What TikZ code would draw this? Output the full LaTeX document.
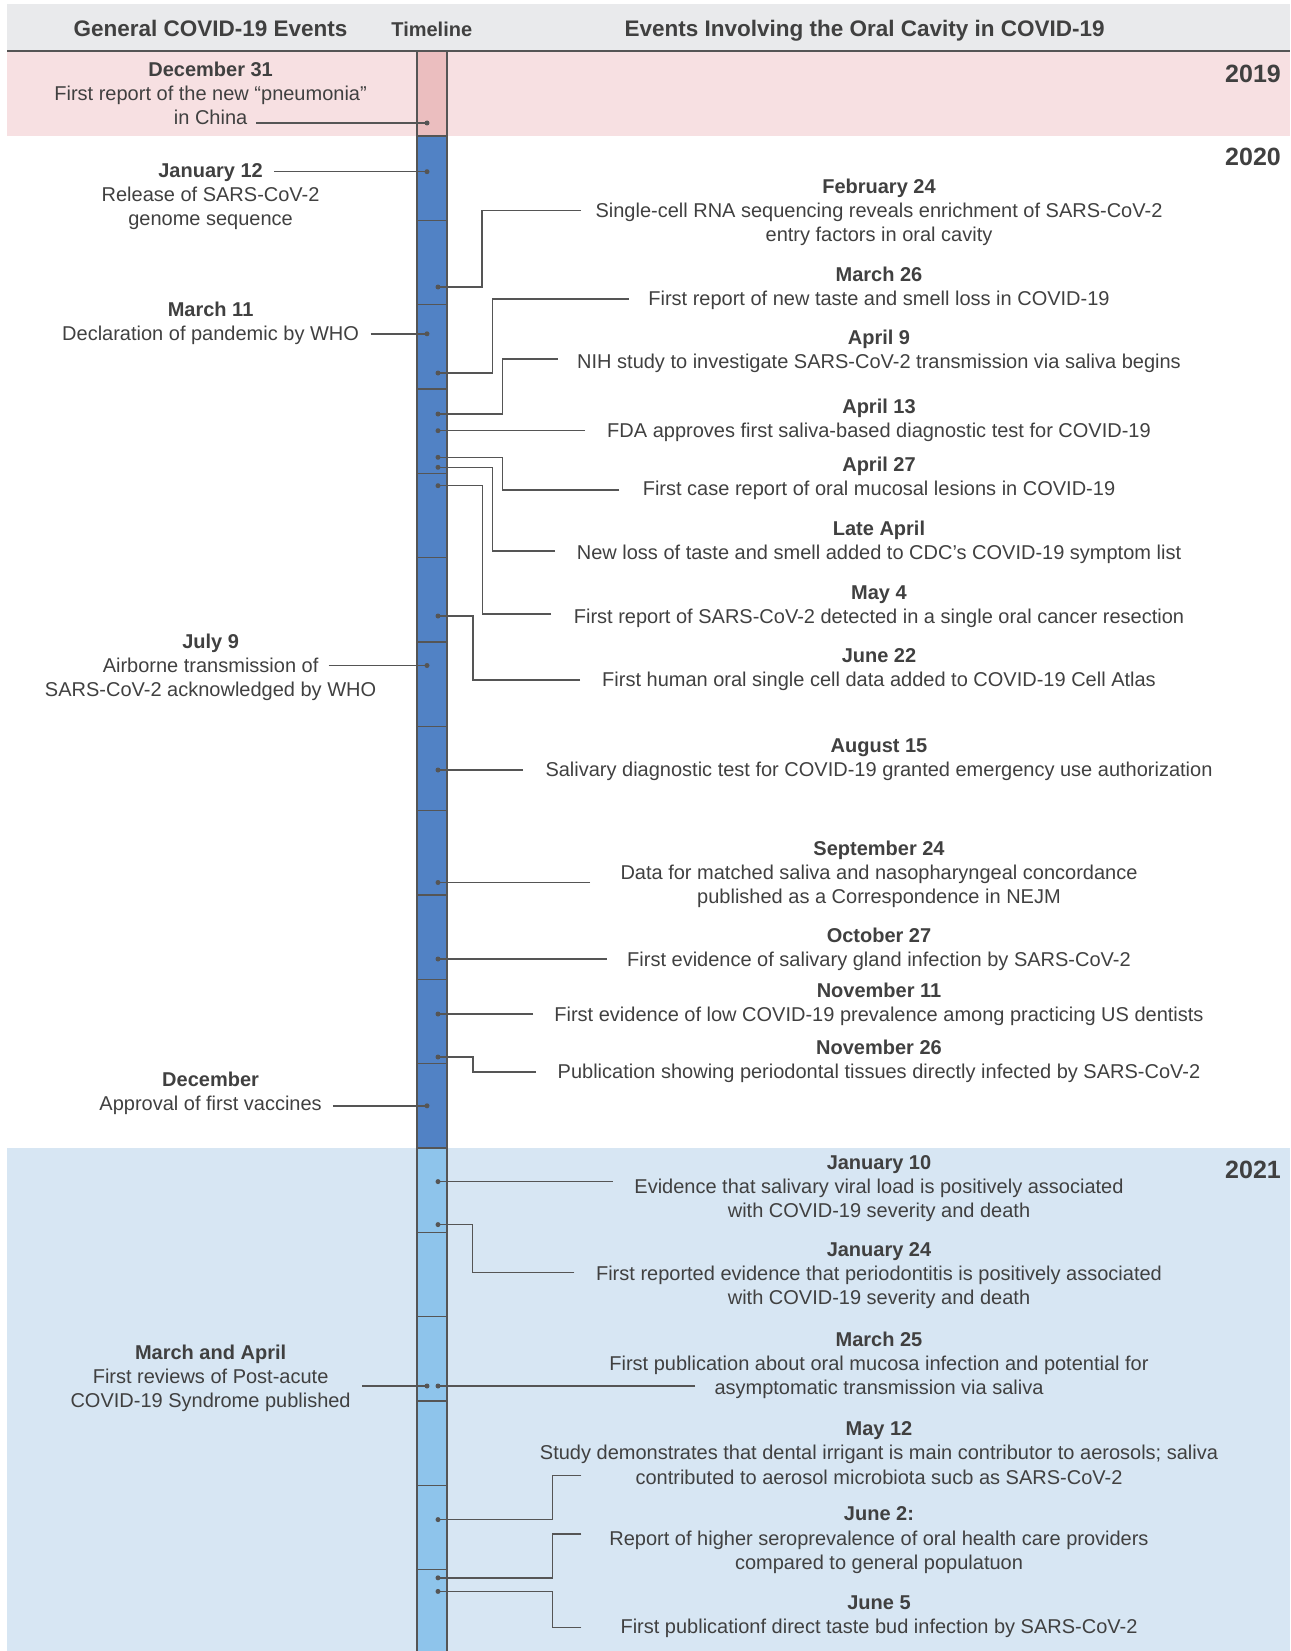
\documentclass[tikz,border=0pt]{standalone}
\usepackage{fontspec}
\setmainfont{Liberation Sans}
\definecolor{txt}{HTML}{404040}
\definecolor{linecol}{HTML}{555555}
\definecolor{hdrbg}{HTML}{E9EAEC}
\definecolor{pinkbg}{HTML}{F7E0E2}
\definecolor{pinkbar}{HTML}{EBBEBF}
\definecolor{darkbar}{HTML}{5182C5}
\definecolor{lightbg}{HTML}{D7E6F3}
\definecolor{lightbar}{HTML}{8EC4EB}
\begin{document}
\begin{tikzpicture}[x=1pt,y=-1pt,
  evt/.style={text=txt, align=center, font=\fontsize{20}{24.2}\selectfont, inner sep=0, anchor=base},
  two/.style={yshift=-24.2pt},
  three/.style={yshift=-48.4pt},
  hdr/.style={text=txt, font=\fontsize{22.5}{26}\selectfont\bfseries, inner sep=0, anchor=base},
  yr/.style={text=txt, font=\fontsize{25}{28}\selectfont\bfseries, inner sep=0, anchor=base east},
  conn/.style={draw=linecol, line width=1.5pt},
  dot/.style={circle, fill=linecol, inner sep=0, minimum size=5pt},
  seg/.style={draw=linecol, line width=1.5pt}]
\useasboundingbox (0,0) rectangle (1290,1651);
\clip (0,0) rectangle (1290,1651);
% bands
\fill[hdrbg] (7,4) rectangle (1290,51);
\fill[pinkbg] (7,51) rectangle (1290,136);
\fill[lightbg] (7,1148) rectangle (1290,1700);
% timeline bar
\filldraw[seg, fill=pinkbar] (417,51) rectangle (447,136);
\foreach \i in {0,...,11}{
  \filldraw[seg, fill=darkbar] (417,136+\i*84.333) rectangle (447,136+\i*84.333+84.333);
}
\foreach \i in {0,...,5}{
  \filldraw[seg, fill=lightbar] (417,1148+\i*84.333) rectangle (447,1148+\i*84.333+84.333);
}
\draw[linecol, line width=1.5pt] (7,51) -- (1290,51);
% headers
\node[hdr] (h1) at (210.6,36.5) {General COVID-19 Events};
\node[hdr, font=\fontsize{20}{24}\selectfont\bfseries] (h2) at (431.8,36.5) {Timeline};
\node[hdr] (h3) at (864.6,36.5) {Events Involving the Oral Cavity in COVID-19};
% years
\node[yr] (y19) at (1281,83) {2019};
\node[yr] (y20) at (1281,165) {2020};
\node[yr] (y21) at (1281,1178) {2021};
% left events
\node[evt, three] (L1) at (210.6,76) {\textbf{December 31}\\First report of the new “pneumonia”\\in China};
\node[evt, three] (L2) at (210.6,177) {\textbf{January 12}\\Release of SARS-CoV-2\\genome sequence};
\node[evt, two] (L3) at (210.6,316) {\textbf{March 11}\\Declaration of pandemic by WHO};
\node[evt, three] (L4) at (210.6,648) {\textbf{July 9}\\Airborne transmission of\\SARS-CoV-2 acknowledged by WHO};
\node[evt, two] (L5) at (210.6,1086) {\textbf{December}\\Approval of first vaccines};
\node[evt, three] (L6) at (210.6,1359) {\textbf{March and April}\\First reviews of Post-acute\\COVID-19 Syndrome published};
% left dots and connectors
\node[dot] (dL1) at (427,123) {};
\node[dot] (dL2) at (427,171.7) {};
\node[dot] (dL3) at (427,333.8) {};
\node[dot] (dL4) at (427,665.5) {};
\node[dot] (dL5) at (427,1105.8) {};
\node[dot] (dL6) at (427,1386) {};
\coordinate (eL1) at (256,123);
\coordinate (eL2) at (274,171.7);
\coordinate (eL3) at (370.7,333.8);
\coordinate (eL4) at (328.6,665.5);
\coordinate (eL5) at (332.8,1105.8);
\coordinate (eL6) at (362,1386);
\foreach \n in {1,...,6}{\draw[conn] (eL\n) -- (dL\n.center);}
% right events
\node[evt, three] (R1) at (879,193) {\textbf{February 24}\\Single-cell RNA sequencing reveals enrichment of SARS-CoV-2\\entry factors in oral cavity};
\node[evt, two] (R2) at (879,281.4) {\textbf{March 26}\\First report of new taste and smell loss in COVID-19};
\node[evt, two] (R3) at (879,344.5) {\textbf{April 9}\\NIH study to investigate SARS-CoV-2 transmission via saliva begins};
\node[evt, two] (R4) at (879,413) {\textbf{April 13}\\FDA approves first saliva-based diagnostic test for COVID-19};
\node[evt, two] (R5) at (879,471) {\textbf{April 27}\\First case report of oral mucosal lesions in COVID-19};
\node[evt, two] (R6) at (879,535) {\textbf{Late April}\\New loss of taste and smell added to CDC’s COVID-19 symptom list};
\node[evt, two] (R7) at (879,599.4) {\textbf{May 4}\\First report of SARS-CoV-2 detected in a single oral cancer resection};
\node[evt, two] (R8) at (879,662.6) {\textbf{June 22}\\First human oral single cell data added to COVID-19 Cell Atlas};
\node[evt, two] (R9) at (879,752) {\textbf{August 15}\\Salivary diagnostic test for COVID-19 granted emergency use authorization};
\node[evt, three] (R10) at (879,855.3) {\textbf{September 24}\\Data for matched saliva and nasopharyngeal concordance\\published as a Correspondence in NEJM};
\node[evt, two] (R11) at (879,942.7) {\textbf{October 27}\\First evidence of salivary gland infection by SARS-CoV-2};
\node[evt, two] (R12) at (879,997.5) {\textbf{November 11}\\First evidence of low COVID-19 prevalence among practicing US dentists};
\node[evt, two] (R13) at (879,1054.3) {\textbf{November 26}\\Publication showing periodontal tissues directly infected by SARS-CoV-2};
\node[evt, three] (R14) at (879,1169) {\textbf{January 10}\\Evidence that salivary viral load is positively associated\\with COVID-19 severity and death};
\node[evt, three] (R15) at (879,1256.5) {\textbf{January 24}\\First reported evidence that periodontitis is positively associated\\with COVID-19 severity and death};
\node[evt, three] (R16) at (879,1346) {\textbf{March 25}\\First publication about oral mucosa infection and potential for\\asymptomatic transmission via saliva};
\node[evt, three] (R17) at (879,1435.6) {\textbf{May 12}\\Study demonstrates that dental irrigant is main contributor to aerosols; saliva\\contributed to aerosol microbiota sucb as SARS-CoV-2};
\node[evt, three] (R18) at (879,1520.9) {\textbf{June 2:}\\Report of higher seroprevalence of oral health care providers\\compared to general populatuon};
\node[evt, two] (R19) at (879,1609.3) {\textbf{June 5}\\First publicationf direct taste bud infection by SARS-CoV-2};
% right dots
\node[dot] (dR1) at (438,287) {};
\node[dot] (dR2) at (438,373) {};
\node[dot] (dR3) at (438,414) {};
\node[dot] (dR4) at (438,430.7) {};
\node[dot] (dR5) at (438,457.3) {};
\node[dot] (dR6) at (438,467.3) {};
\node[dot] (dR7) at (438,485.7) {};
\node[dot] (dR8) at (438,616) {};
\node[dot] (dR9) at (438,770) {};
\node[dot] (dR10) at (438,882.5) {};
\node[dot] (dR11) at (438,959) {};
\node[dot] (dR12) at (438,1014) {};
\node[dot] (dR13) at (438,1057) {};
\node[dot] (dR14) at (438,1181.6) {};
\node[dot] (dR15) at (438,1224.6) {};
\node[dot] (dR16) at (438,1386) {};
\node[dot] (dR17) at (438,1519.6) {};
\node[dot] (dR18) at (438,1577.8) {};
\node[dot] (dR19) at (438,1591.4) {};
% right free ends
\coordinate (eR1) at (581,210.6);
\coordinate (eR2) at (628.7,299);
\coordinate (eR3) at (557.7,359);
\coordinate (eR4) at (585,430.7);
\coordinate (eR5) at (619.3,490);
\coordinate (eR6) at (555,551);
\coordinate (eR7) at (551,614);
\coordinate (eR8) at (580,680);
\coordinate (eR9) at (523,770);
\coordinate (eR10) at (590,882.5);
\coordinate (eR11) at (606.6,959);
\coordinate (eR12) at (533,1014);
\coordinate (eR13) at (536,1072);
\coordinate (eR14) at (612.7,1181.6);
\coordinate (eR15) at (574.3,1272.4);
\coordinate (eR16) at (695,1386);
\coordinate (eR17) at (581.3,1475.6);
\coordinate (eR18) at (581.3,1533.8);
\coordinate (eR19) at (581.3,1627.3);
% connectors
\draw[conn] (eR1) -- ++(-99,0) |- (dR1.center);
\draw[conn] (eR2) -- ++(-136.4,0) |- (dR2.center);
\draw[conn] (eR3) -- ++(-55,0) |- (dR3.center);
\draw[conn] (eR4) -- (dR4.center);
\draw[conn] (eR5) -- ++(-116.6,0) |- (dR5.center);
\draw[conn] (eR6) -- ++(-62.7,0) |- (dR6.center);
\draw[conn] (eR7) -- ++(-68.7,0) |- (dR7.center);
\draw[conn] (eR8) -- ++(-107,0) |- (dR8.center);
\draw[conn] (eR9) -- (dR9.center);
\draw[conn] (eR10) -- (dR10.center);
\draw[conn] (eR11) -- (dR11.center);
\draw[conn] (eR12) -- (dR12.center);
\draw[conn] (eR13) -- ++(-63,0) |- (dR13.center);
\draw[conn] (eR14) -- (dR14.center);
\draw[conn] (eR15) -- ++(-101.6,0) |- (dR15.center);
\draw[conn] (eR16) -- (dR16.center);
\draw[conn] (eR17) -- ++(-29,0) |- (dR17.center);
\draw[conn] (eR18) -- ++(-29,0) |- (dR18.center);
\draw[conn] (eR19) -- ++(-29,0) |- (dR19.center);
\end{tikzpicture}
\end{document}
